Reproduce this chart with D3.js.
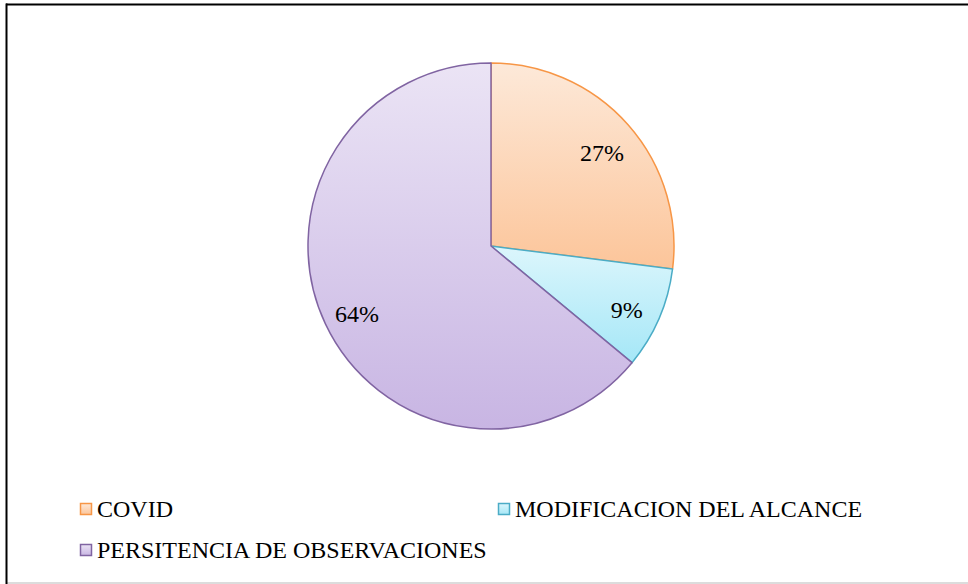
<!DOCTYPE html>
<html><head><meta charset="utf-8">
<script src="https://cdn.jsdelivr.net/npm/d3@7"></script>
<style>html,body{margin:0;padding:0;background:#fff;}</style>
</head><body>
<svg id="c" width="968" height="584"></svg>
<script>
const categories = ["COVID", "MODIFICACION DEL ALCANCE", "PERSITENCIA DE OBSERVACIONES"];
const values = [27, 9, 64];
const labels = ["27%", "9%", "64%"];
const fillTop = ["#fde9d9", "#dcf6fc", "#ebe4f5"];
const fillBottom = ["#fcc59a", "#a5e7f7", "#c8b5e3"];
const strokes = ["#f79646", "#4bacc6", "#8064a2"];

const svg = d3.select("#c");
const font = "'Liberation Serif','Times New Roman',serif";

// frame
svg.append("rect").attr("x",0).attr("y",0).attr("width",968).attr("height",584).attr("fill","#fff");
svg.append("line").attr("x1",6).attr("x2",968).attr("y1",583).attr("y2",583).attr("stroke","#d0d0d0").attr("stroke-width",1.5);
svg.append("line").attr("x1",6).attr("x2",968).attr("y1",4.5).attr("y2",4.5).attr("stroke","#000").attr("stroke-width",2);
svg.append("line").attr("x1",6.5).attr("x2",6.5).attr("y1",3.5).attr("y2",584).attr("stroke","#000").attr("stroke-width",2);

const defs = svg.append("defs");
categories.forEach((c,i)=>{
  const g = defs.append("linearGradient").attr("id","g"+i).attr("x1",0).attr("y1",0).attr("x2",0).attr("y2",1);
  g.append("stop").attr("offset","0%").attr("stop-color",fillTop[i]);
  g.append("stop").attr("offset","100%").attr("stop-color",fillBottom[i]);
});

const cx = 491, cy = 246, r = 183;
const pie = d3.pie().sort(null).value(d=>d);
const arcs = pie(values);
const arc = d3.arc().innerRadius(0).outerRadius(r);
const labelArc = d3.arc().innerRadius(148).outerRadius(148);

const g = svg.append("g").attr("transform",`translate(${cx},${cy})`);
g.selectAll("path.s").data(arcs).join("path").attr("class","s")
  .attr("d",arc).attr("fill",(d,i)=>`url(#g${i})`)
  .attr("stroke",(d,i)=>strokes[i]).attr("stroke-width",1.5).attr("stroke-linejoin","round");

g.selectAll("text.l").data(arcs).join("text").attr("class","l")
  .attr("transform",d=>{const p=labelArc.centroid(d);return `translate(${p[0]},${p[1]})`;})
  .attr("text-anchor","middle").attr("dy","0.55em")
  .attr("font-family",font).attr("font-size",24).attr("fill","#000")
  .text((d,i)=>labels[i]);

// legend
const legPos = [[80,517],[498,517],[80,558]];
const lg = svg.append("g");
categories.forEach((c,i)=>{
  const [x,y] = legPos[i];
  lg.append("rect").attr("x",x+0.5).attr("y",y-13.5).attr("width",11).attr("height",11)
    .attr("fill",`url(#g${i})`).attr("stroke",strokes[i]).attr("stroke-width",1.5);
  lg.append("text").attr("x",x+17).attr("y",y).attr("font-family",font).attr("font-size",24)
    .attr("fill","#000").text(c);
});
</script>
</body></html>
